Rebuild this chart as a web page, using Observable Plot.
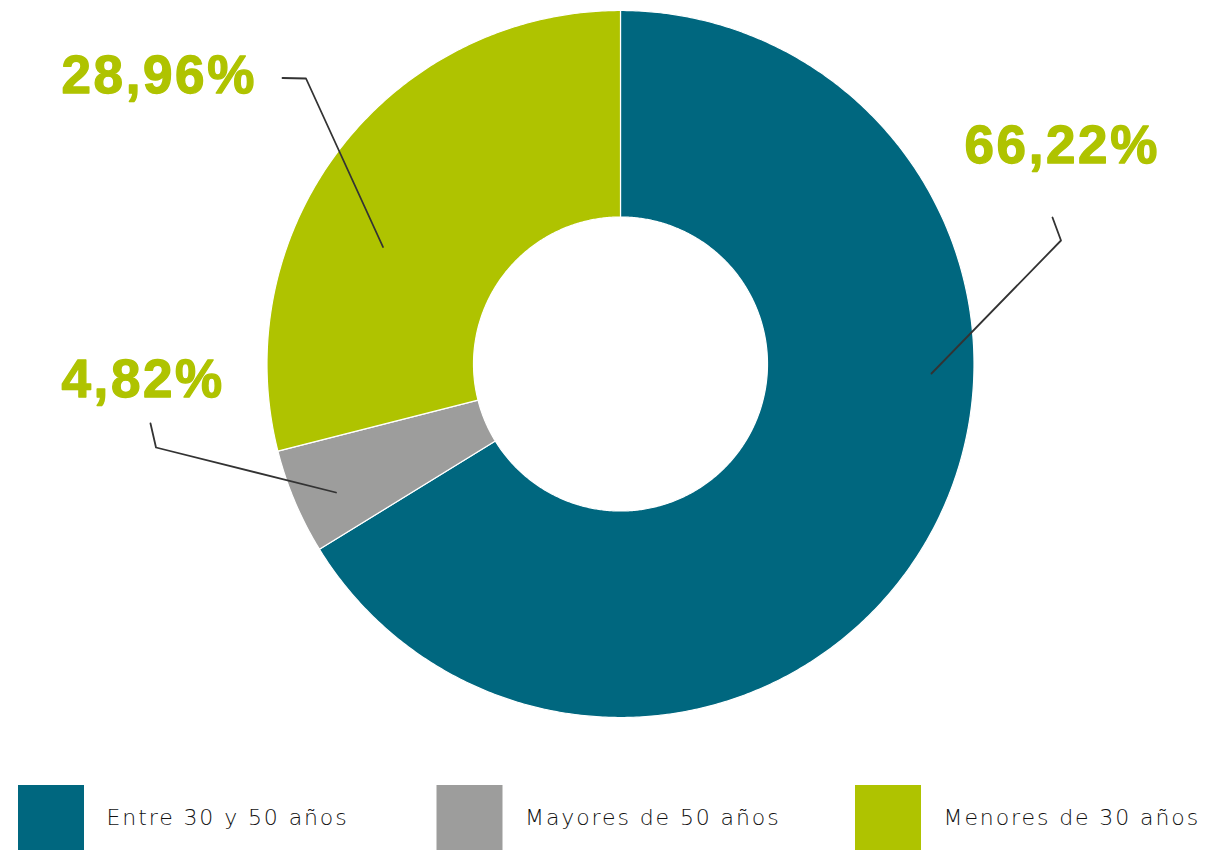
<!DOCTYPE html>
<html>
<head>
<meta charset="utf-8">
<script src="https://cdn.jsdelivr.net/npm/d3@7"></script>
<script src="https://cdn.jsdelivr.net/npm/@observablehq/plot@0.6"></script>
<style>
  html, body { margin: 0; padding: 0; background: #fff; }
  #chart svg { display: block; }
</style>
</head>
<body>
<div id="chart"></div>
<script>
// ---- data ----
const categories = ["Entre 30 y 50 años", "Mayores de 50 años", "Menores de 30 años"];
const shares = [66.22, 4.82, 28.96];
const valueLabels = ["66,22%", "4,82%", "28,96%"];

// ---- styles ----
const colors = ["#00677F", "#9D9D9C", "#AFC300"];
const labelColor = "#AFC300";

// ---- layout ----
const W = 1206, H = 850;
const center = [620, 363.5];
const outerR = 353.5, innerR = 147;
const labelPos = [[964, 162], [61, 396.5], [61, 92.5]];
const leaders = [
  [[931, 373], [1060.5, 240], [1052, 217]],
  [[335.5, 492], [155.5, 447], [150, 423]],
  [[382.5, 246.5], [305.5, 78], [282, 77.5]]
];
const legendX0 = 18, legendStep = 418.5, legendSize = 66, legendY = 785;
const legendTextDx = 88, legendBaseline = 824.5;

// ---- build slice polygons from pie angles ----
const pie = d3.pie().sort(null).value(d => d.value).startAngle(0).endAngle(2 * Math.PI);
const arcs = pie(categories.map((c, i) => ({cat: c, value: shares[i]})));
const pts = [];
for (const a of arcs) {
  const n = Math.max(8, Math.ceil((a.endAngle - a.startAngle) / (2 * Math.PI) * 720));
  for (let k = 0; k <= n; k++) {
    const t = a.startAngle + (a.endAngle - a.startAngle) * k / n;
    pts.push({cat: a.data.cat, x: center[0] + outerR * Math.sin(t), y: center[1] - outerR * Math.cos(t)});
  }
  for (let k = n; k >= 0; k--) {
    const t = a.startAngle + (a.endAngle - a.startAngle) * k / n;
    pts.push({cat: a.data.cat, x: center[0] + innerR * Math.sin(t), y: center[1] - innerR * Math.cos(t)});
  }
}
const leaderPts = leaders.flatMap((L, i) => L.map(p => ({k: i, x: p[0], y: p[1]})));

const svg = Plot.plot({
  width: W, height: H, margin: 0,
  x: {domain: [0, W], range: [0, W], axis: null},
  y: {domain: [0, H], range: [0, H], axis: null},
  color: {domain: categories, range: colors},
  marks: [
    Plot.line(pts, {x: "x", y: "y", z: "cat", fill: "cat", stroke: "white", strokeWidth: 1.2, curve: "linear-closed"}),
    Plot.line(leaderPts, {x: "x", y: "y", z: "k", stroke: "#333", strokeWidth: 1.8}),
    Plot.text(valueLabels, {
      x: (d, i) => labelPos[i][0], y: (d, i) => labelPos[i][1], text: d => d,
      textAnchor: "start", lineAnchor: "bottom", fill: labelColor,
      stroke: labelColor, strokeWidth: 1.3,
      fontSize: 53, fontWeight: "bold", fontFamily: "Liberation Sans, Arial, sans-serif"
    }),
    Plot.rect(categories, {
      x1: (d, i) => legendX0 + i * legendStep, x2: (d, i) => legendX0 + i * legendStep + legendSize,
      y1: legendY, y2: legendY + legendSize, fill: d => d
    }),
    Plot.text(categories, {
      x: (d, i) => legendX0 + i * legendStep + legendTextDx, y: legendBaseline, text: d => d,
      textAnchor: "start", lineAnchor: "bottom", fill: "#111",
      fontSize: 22, fontWeight: 300, fontFamily: "DejaVu Sans, sans-serif"
    })
  ]
});
const textGroups = svg.querySelectorAll('g[aria-label="text"]');
if (textGroups[0]) textGroups[0].setAttribute("letter-spacing", "2.6");
if (textGroups[1]) textGroups[1].setAttribute("letter-spacing", "1.9");
document.getElementById("chart").appendChild(svg);
</script>
</body>
</html>
